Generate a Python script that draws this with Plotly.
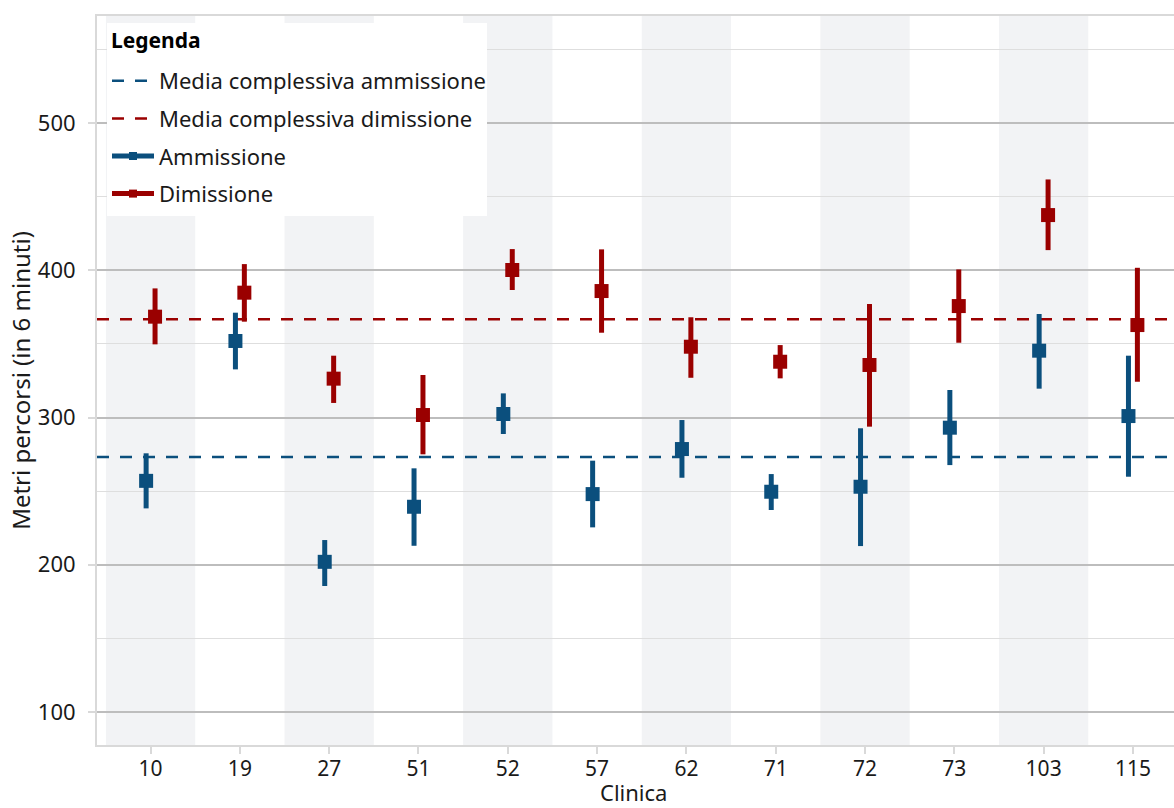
import plotly.graph_objects as go

categories = ["10", "19", "27", "51", "52", "57", "62", "71", "72", "73", "103", "115"]

amm_mean = [257, 352, 202, 239.4, 302.4, 248, 278.6, 249.6, 253, 293.1, 345.4, 301]
amm_low = [238.3, 332.7, 185.6, 212.9, 288.8, 225.4, 259.1, 237.2, 212.7, 267.7, 319.6, 259.8]
amm_high = [275.7, 371.2, 216.8, 265.5, 316.4, 270.7, 298.3, 261.6, 292.7, 318.7, 370.3, 342]

dim_mean = [368.5, 384.8, 326.4, 301.7, 400.2, 385.9, 348.1, 337.9, 335.7, 375.7, 437.5, 362.8]
dim_low = [349.7, 365.1, 309.9, 275, 386.6, 357.6, 327, 326.6, 293.8, 350.8, 413.7, 324.3]
dim_high = [387.7, 404.2, 342, 328.9, 414.4, 414.2, 368.1, 349.2, 377.1, 400.6, 461.7, 401.7]

overall_amm = 273.2
overall_dim = 366.7

y_major = [100, 200, 300, 400, 500]
y_minor = [150, 250, 350, 450, 550]

BLUE = "#0b4f7d"
RED = "#9a0000"
FONT = "Noto Sans"
TXT = "#1a1a1a"

idx = list(range(len(categories)))
x_lo, x_hi = -0.60, 11.46
y_lo, y_hi = 77.6, 572.7

fig = go.Figure()

fig.add_trace(go.Scatter(
    x=[x_lo, x_hi], y=[overall_amm, overall_amm], mode="lines",
    line=dict(color=BLUE, width=2.5, dash="12px,11px"),
    name="Media complessiva ammissione", legendgroup="a", hoverinfo="skip"))
fig.add_trace(go.Scatter(
    x=[x_lo, x_hi], y=[overall_dim, overall_dim], mode="lines",
    line=dict(color=RED, width=2.5, dash="12px,11px"),
    name="Media complessiva dimissione", legendgroup="b", hoverinfo="skip"))


def add_series(means, lows, highs, color, name, offset, grp):
    xs = [i + offset for i in idx]
    fig.add_trace(go.Scatter(
        x=xs, y=means, mode="markers",
        marker=dict(symbol="square", size=14, color=color),
        error_y=dict(type="data", symmetric=False,
                     array=[h - m for h, m in zip(highs, means)],
                     arrayminus=[m - l for m, l in zip(means, lows)],
                     color=color, thickness=5, width=0),
        name=name, legendgroup=grp, showlegend=False))
    fig.add_trace(go.Scatter(
        x=[None], y=[None], mode="lines+markers",
        line=dict(color=color, width=5),
        marker=dict(symbol="square", size=8, color=color),
        name=name, legendgroup=grp, showlegend=True))


add_series(amm_mean, amm_low, amm_high, BLUE, "Ammissione", -0.05, "c")
add_series(dim_mean, dim_low, dim_high, RED, "Dimissione", 0.05, "d")

# plot area in pixels: x 97..1174, y 16..745
X0, X1, Y0, Y1 = 97.0, 1174.0, 16.0, 745.0
def px(xp):
    return (xp - X0) / (X1 - X0)
def py(yp):
    return (Y1 - yp) / (Y1 - Y0)

shapes = []
for i in idx:
    if i % 2 == 0:
        shapes.append(dict(type="rect", xref="x", yref="paper",
                           x0=i - 0.5, x1=i + 0.5, y0=0, y1=1,
                           fillcolor="#f2f3f5", line=dict(width=0), layer="below"))
# white legend panel
shapes.append(dict(type="rect", xref="paper", yref="paper",
                   x0=px(107), x1=px(487), y0=py(216), y1=py(23),
                   fillcolor="white", line=dict(width=0), layer="above"))

annotations = [
    dict(text="<b>Legenda</b>", xref="paper", yref="paper",
         x=px(109), y=py(40), xanchor="left", yanchor="middle",
         showarrow=False, font=dict(size=21, family=FONT, color="black")),
    # x-axis title
    dict(text="Clinica", xref="paper", yref="paper",
         x=px(633), y=py(807.5), xanchor="center", yanchor="bottom",
         showarrow=False, borderpad=0,
         font=dict(size=22, family=FONT, color=TXT)),
]

fig.update_layout(
    width=1174, height=808,
    margin=dict(l=97, r=0, t=16, b=63, autoexpand=False),
    paper_bgcolor="white", plot_bgcolor="white",
    font=dict(family=FONT, size=22, color=TXT),
    shapes=shapes,
    annotations=annotations,
    showlegend=True,
    legend=dict(
        x=px(107), y=py(137.5), xanchor="left", yanchor="middle",
        bgcolor="rgba(0,0,0,0)", borderwidth=0,
        font=dict(size=22, family=FONT, color=TXT),
        tracegroupgap=6, traceorder="grouped",
        itemwidth=42,
    ),
    xaxis=dict(
        range=[x_lo, x_hi], tickmode="array", tickvals=idx, ticktext=categories,
        showgrid=False, zeroline=False, automargin=False,
        showline=True, linecolor="#d9d9d9", linewidth=2, mirror=True,
        ticks="outside", ticklen=7, tickwidth=2, tickcolor="#d9d9d9",
        ticklabelstandoff=-3,
        tickfont=dict(size=21, family=FONT, color=TXT),
    ),
    yaxis=dict(
        range=[y_lo, y_hi], tickmode="array", tickvals=y_major,
        showgrid=True, gridcolor="#bdbdbd", gridwidth=2,
        minor=dict(tickmode="array", tickvals=y_minor,
                   showgrid=True, gridcolor="#dedede", gridwidth=1, ticks=""),
        zeroline=False, automargin=False,
        showline=True, linecolor="#d9d9d9", linewidth=2,
        ticks="outside", ticklen=7, tickwidth=2, tickcolor="#d9d9d9",
        ticklabelstandoff=8,
        tickfont=dict(size=22, family=FONT, color=TXT),
        title=dict(text="Metri percorsi (in 6 minuti)", font=dict(size=24, family=FONT, color=TXT), standoff=0),
    ),
)

fig.write_html(
    "out.html",
    config={"displayModeBar": False},
    post_script="document.body.style.margin='0';document.body.style.overflow='hidden';",
)
